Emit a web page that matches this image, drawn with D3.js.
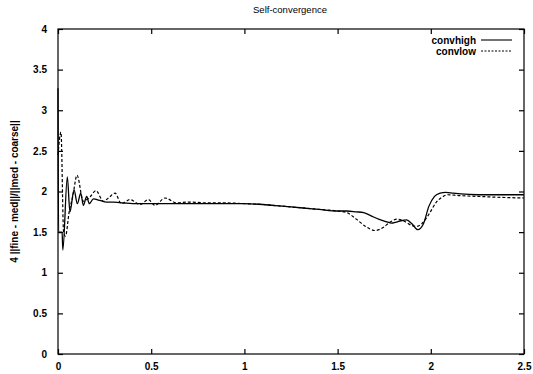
<!DOCTYPE html>
<html><head><meta charset="utf-8">
<script src="https://cdn.jsdelivr.net/npm/d3@7"></script>
<style>body{margin:0;background:#fff;}text{font-family:"Liberation Sans",Arial,sans-serif;}</style>
</head><body>
<svg id="c" width="533" height="374"></svg>
<script>
const title = "Self-convergence";
const yLabel = "4 ||fine - med||/||med - coarse||";
const seriesNames = ["convhigh", "convlow"];
const xTicks = [0, 0.5, 1, 1.5, 2, 2.5];
const yTicks = [0, 0.5, 1, 1.5, 2, 2.5, 3, 3.5, 4];

const highX = [0, 0.003, 0.022, 0.026, 0.05, 0.064, 0.086, 0.104, 0.122, 0.136, 0.154, 0.168, 0.19, 0.225, 0.26, 0.3, 0.35, 0.4, 0.45, 0.5, 0.6, 0.7, 0.8, 0.9, 1.0, 1.1, 1.2, 1.3, 1.4, 1.5, 1.55, 1.6, 1.64, 1.68, 1.72, 1.76, 1.79, 1.81, 1.84, 1.87, 1.9, 1.93, 1.96, 1.99, 2.02, 2.05, 2.08, 2.12, 2.16, 2.25, 2.35, 2.5];
const highY = [3.27, 1.5, 1.5, 1.28, 2.18, 1.75, 2.02, 1.85, 1.98, 1.83, 1.94, 1.85, 1.91, 1.89, 1.87, 1.87, 1.86, 1.85, 1.85, 1.85, 1.85, 1.85, 1.85, 1.85, 1.85, 1.84, 1.82, 1.80, 1.78, 1.76, 1.76, 1.75, 1.74, 1.70, 1.66, 1.63, 1.61, 1.62, 1.64, 1.65, 1.60, 1.53, 1.60, 1.82, 1.94, 1.98, 1.99, 1.98, 1.97, 1.96, 1.96, 1.96];
const lowX = [0, 0.016, 0.03, 0.04, 0.06, 0.08, 0.102, 0.136, 0.17, 0.204, 0.243, 0.275, 0.306, 0.34, 0.386, 0.44, 0.485, 0.52, 0.574, 0.637, 0.7, 0.8, 0.9, 1.0, 1.1, 1.2, 1.3, 1.4, 1.5, 1.55, 1.6, 1.65, 1.7, 1.74, 1.78, 1.82, 1.86, 1.9, 1.92, 1.95, 1.99, 2.03, 2.06, 2.09, 2.15, 2.25, 2.35, 2.5];
const lowY = [2.45, 2.73, 1.5, 1.45, 1.75, 1.95, 2.2, 1.88, 1.93, 2.01, 1.88, 1.93, 1.98, 1.85, 1.90, 1.84, 1.90, 1.83, 1.92, 1.86, 1.87, 1.86, 1.86, 1.85, 1.84, 1.82, 1.80, 1.78, 1.76, 1.74, 1.66, 1.57, 1.52, 1.55, 1.62, 1.66, 1.63, 1.58, 1.57, 1.6, 1.72, 1.87, 1.93, 1.96, 1.95, 1.94, 1.93, 1.92];

const svg = d3.select("#c");
const L = 58, R = 524, T = 29, B = 354;
const x = d3.scaleLinear().domain([0, 2.5]).range([L, R]);
const y = d3.scaleLinear().domain([0, 4]).range([B, T]);

// frame
svg.append("rect").attr("x", L).attr("y", T).attr("width", R - L).attr("height", B - T)
  .attr("fill", "none").attr("stroke", "#000").attr("stroke-width", 1.2);

const tl = 5;
// bottom axis (ticks inward)
const xa = svg.append("g").attr("transform", `translate(0,${B})`)
  .call(d3.axisBottom(x).tickValues(xTicks).tickSizeInner(-tl).tickSizeOuter(0).tickPadding(9).tickFormat(d3.format("")));
xa.select(".domain").remove();
xa.selectAll("text").attr("font-size", 10).attr("font-weight", "bold").attr("fill", "#000");
// top mirror ticks
const xt = svg.append("g").attr("transform", `translate(0,${T})`)
  .call(d3.axisTop(x).tickValues(xTicks).tickSizeInner(-tl).tickSizeOuter(0).tickFormat(""));
xt.select(".domain").remove();
// left axis
const ya = svg.append("g").attr("transform", `translate(${L},0)`)
  .call(d3.axisLeft(y).tickValues(yTicks).tickSizeInner(-tl).tickSizeOuter(0).tickPadding(11).tickFormat(d3.format("")));
ya.select(".domain").remove();
ya.selectAll("text").attr("font-size", 10).attr("font-weight", "bold").attr("fill", "#000");
// right mirror ticks
const yr = svg.append("g").attr("transform", `translate(${R},0)`)
  .call(d3.axisRight(y).tickValues(yTicks).tickSizeInner(-tl).tickSizeOuter(0).tickFormat(""));
yr.select(".domain").remove();
svg.selectAll(".tick line").attr("stroke", "#000").attr("stroke-width", 1.2);

// title
svg.append("text").attr("x", 290).attr("y", 13).attr("text-anchor", "middle")
  .attr("font-size", 9.5).text(title);
// y label
svg.append("text").attr("transform", `translate(18,${(T + B) / 2}) rotate(-90)`)
  .attr("text-anchor", "middle").attr("font-size", 10).attr("font-weight", "bold").text(yLabel);

const line = d3.line().x(d => x(d[0])).y(d => y(d[1])).curve(d3.curveMonotoneX);
const high = d3.zip(highX, highY);
const low = d3.zip(lowX, lowY);
svg.append("path").datum(low).attr("d", line).attr("fill", "none")
  .attr("stroke", "#000").attr("stroke-width", 1.2).attr("stroke-dasharray", "3,2");
svg.append("path").datum(high).attr("d", line).attr("fill", "none")
  .attr("stroke", "#000").attr("stroke-width", 1.3);

// legend
const leg = svg.append("g");
seriesNames.forEach((n, i) => {
  const yy = 40 + i * 11;
  leg.append("text").attr("x", 476).attr("y", yy + 3.5).attr("text-anchor", "end")
    .attr("font-size", 10).attr("font-weight", "bold").text(n);
  leg.append("line").attr("x1", 481).attr("x2", 512).attr("y1", yy).attr("y2", yy)
    .attr("stroke", "#000").attr("stroke-width", 1.1)
    .attr("stroke-dasharray", i === 1 ? "2,1.5" : null);
});
</script>
</body></html>
